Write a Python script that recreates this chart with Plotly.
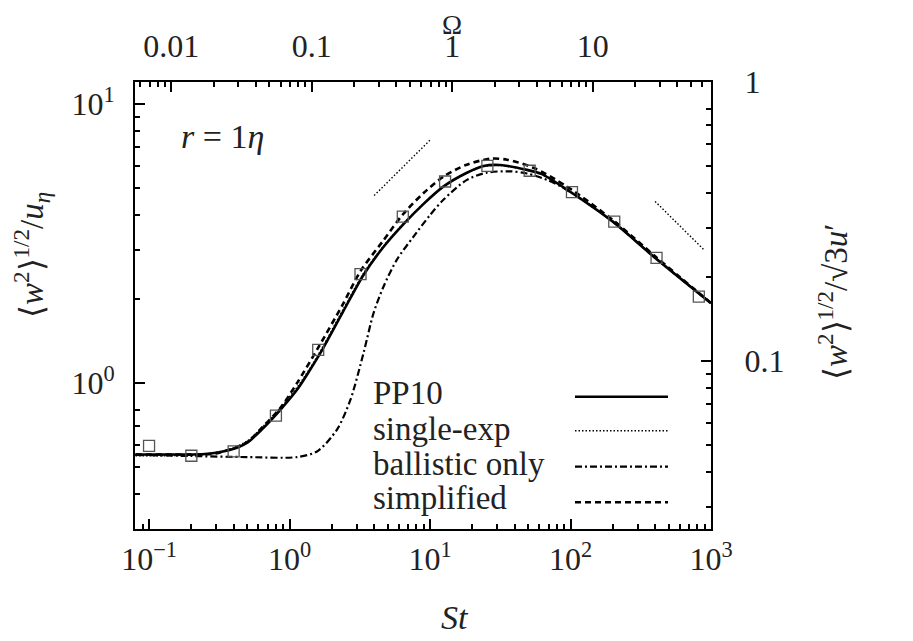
import math
import plotly.graph_objects as go

# ---------------- data ----------------
# DNS data (open squares)
st_dns = [0.1, 0.2, 0.4, 0.8, 1.6, 3.2, 6.4, 12.8, 25.6, 51.2, 102.4, 204.8, 409.6, 819.2]
w_dns = [0.596, 0.549, 0.569, 0.765, 1.316, 2.46, 3.95, 5.28, 6.01, 5.77, 4.84, 3.79, 2.81, 2.04]

# PP10 (solid)
st_pp10 = [0.08, 0.15, 0.25, 0.38, 0.5, 0.65, 0.86, 1.13, 1.4, 1.7, 2.4, 3.36, 4.6, 6.5, 9.0,
           12.5, 18, 24, 31.6, 49, 62, 100, 198, 391, 1000]
w_pp10 = [0.555, 0.555, 0.557, 0.577, 0.612, 0.690, 0.802, 0.946, 1.116, 1.31, 1.80, 2.44, 3.05,
          3.72, 4.39, 5.07, 5.65, 6.0, 6.05, 5.81, 5.62, 4.84, 3.80, 2.84, 1.935]

# single-exp (dotted)
st_se = [0.08, 0.15, 0.25, 0.38, 0.5, 0.65, 0.86, 1.13, 1.4, 1.7, 2.4, 3.36, 4.6, 6.5, 9.0,
         12.5, 18, 24, 31.6, 49, 62, 100, 198, 391, 1000]
w_se = [0.549, 0.550, 0.556, 0.580, 0.620, 0.700, 0.815, 0.965, 1.13, 1.33, 1.83, 2.47, 3.07,
        3.74, 4.40, 5.07, 5.64, 5.98, 6.03, 5.80, 5.62, 4.84, 3.80, 2.84, 1.935]

# ballistic only (dash-dot)
st_ball = [0.08, 0.2, 0.5, 1.13, 1.57, 2.17, 2.71, 3.36, 3.96, 4.67, 5.81, 7.63, 10, 12.5, 18.3,
           25.4, 37.3, 49, 70, 100, 200, 391, 1000]
w_ball = [0.553, 0.548, 0.543, 0.543, 0.569, 0.68, 0.87, 1.28, 1.78, 2.22, 2.77, 3.35, 4.0, 4.55,
          5.35, 5.68, 5.74, 5.64, 5.32, 4.84, 3.80, 2.84, 1.935]

# simplified (dashed)
st_simp = [0.08, 0.15, 0.3, 0.5, 0.65, 0.86, 1.13, 1.6, 2.4, 3.2, 4.6, 6.4, 9.0, 12.5, 18, 26.8,
           35.4, 55, 94, 200, 400, 1000]
w_simp = [0.555, 0.555, 0.56, 0.615, 0.70, 0.814, 1.0, 1.34, 1.92, 2.52, 3.22, 4.02, 4.80, 5.50,
          6.05, 6.37, 6.32, 5.90, 5.07, 3.84, 2.85, 1.935]

# reference slopes St^(1/2) and St^(-1/2)
st_slope_up = [4.0, 10.0]
w_slope_up = [4.70, 7.43]
st_slope_dn = [400.0, 900.0]
w_slope_dn = [4.48, 2.99]

legend_names = ["PP10", "single-exp", "ballistic only", "simplified"]

x_tickvals = [0.1, 1, 10, 100, 1000]
x_ticktext = ["10<sup>\u22121</sup>", "10<sup>0</sup>", "10<sup>1</sup>", "10<sup>2</sup>", "10<sup>3</sup>"]
y_tickvals = [1, 10]
y_ticktext = ["10<sup>0</sup>", "10<sup>1</sup>"]
y2_tickvals = [0.1, 1]
y2_ticktext = ["0.1", "1"]
x2_tickvals = [0.01, 0.1, 1, 10]
x2_ticktext = ["0.01", "0.1", "1", "10"]
omega_factor = 14.4  # St / Omega
y2_factor = 12.0     # left / right axis ratio

# ---------------- figure ----------------
FONT = "Liberation Serif"
FS = 32
FS_LEG = 33
FS_TITLE = 33
TXT = "#222222"

OFF = 8  # page body margin
W, H = 913 - OFF, 641 - OFF
L, R, T, B = 135 - OFF, 711 - OFF, 82 - OFF, 529 - OFF


def px(xp):
    return (xp - OFF - L) / (R - L)


def py(yp):
    return (B - (yp - OFF)) / (B - T)


fig = go.Figure()

line_specs = [
    (st_pp10, w_pp10, dict(color="black", width=2.6, dash="solid")),
    (st_se, w_se, dict(color="black", width=1.6, dash="1.5px,2px")),
    (st_ball, w_ball, dict(color="black", width=2.2, dash="7px,3px,2px,3px")),
    (st_simp, w_simp, dict(color="black", width=2.6, dash="6px,4px")),
]
for (xs, ys, ln), nm in zip(line_specs, legend_names):
    fig.add_trace(go.Scatter(x=xs, y=ys, mode="lines", line=dict(shape="spline", smoothing=0.8, **ln),
                             name=nm, showlegend=False))

fig.add_trace(go.Scatter(x=st_slope_up, y=w_slope_up, mode="lines",
                         line=dict(color="black", width=1.4, dash="1.5px,2px"), showlegend=False))
fig.add_trace(go.Scatter(x=st_slope_dn, y=w_slope_dn, mode="lines",
                         line=dict(color="black", width=1.4, dash="1.5px,2px"), showlegend=False))

fig.add_trace(go.Scatter(x=st_dns, y=w_dns, mode="markers",
                         marker=dict(symbol="square-open", size=11, color="#555555",
                                     line=dict(width=1.3, color="#555555")),
                         showlegend=False))

xmin_log, xmax_log = -1.1, 3.0
ymin, ymax = 0.3, 12.0

axis_common = dict(type="log", showgrid=False, zeroline=False, showline=True, linecolor="black",
                   linewidth=2, ticks="inside", ticklen=10, tickwidth=1.5, tickcolor="black",
                   tickfont=dict(family=FONT, size=FS, color=TXT))


def minors(decades, lo, hi):
    out = []
    for d in decades:
        for m in range(2, 10):
            v = m * 10 ** d
            if lo <= v <= hi:
                out.append(v)
    return out


x_min = minors(range(-2, 3), 10 ** xmin_log, 1000)
y_min = [v for v in minors(range(-1, 2), ymin, ymax) if abs(v - 0.9) > 1e-9]
x2_lo = 10 ** xmin_log / omega_factor
x2_hi = 1000 / omega_factor
x2_min = minors(range(-3, 2), x2_lo, x2_hi)
y2_lo, y2_hi = ymin / y2_factor, ymax / y2_factor
y2_min = [v for v in minors(range(-2, 1), y2_lo, y2_hi) if abs(v - 0.9) > 1e-9]

minor_common = dict(ticks="inside", ticklen=5, tickwidth=1.5, tickcolor="black", showgrid=False)

fig.update_layout(
    width=W, height=H,
    margin=dict(l=L, r=W - R, t=T, b=H - B, autoexpand=False),
    plot_bgcolor="white", paper_bgcolor="white",
    font=dict(family=FONT, size=FS, color=TXT),
    showlegend=False,
    xaxis=dict(axis_common, range=[xmin_log, xmax_log], tickvals=x_tickvals, ticktext=x_ticktext,
               ticklabelstandoff=1, minor=dict(minor_common, tickvals=x_min)),
    yaxis=dict(axis_common, range=[math.log10(ymin), math.log10(ymax)], tickvals=y_tickvals,
               ticktext=y_ticktext, ticklabelstandoff=12, minor=dict(minor_common, tickvals=y_min)),
    xaxis2=dict(axis_common, overlaying="x", side="top", anchor="y",
                range=[math.log10(x2_lo), math.log10(x2_hi)], tickvals=x2_tickvals,
                ticktext=x2_ticktext, ticklabelstandoff=10, minor=dict(minor_common, tickvals=x2_min)),
    yaxis2=dict(axis_common, overlaying="y", side="right", anchor="x",
                range=[math.log10(y2_lo), math.log10(y2_hi)], tickvals=y2_tickvals,
                ticktext=y2_ticktext, ticklabelstandoff=25, minor=dict(minor_common, tickvals=y2_min)),
)

# invisible trace so the secondary axes are drawn
fig.add_trace(go.Scatter(x=[None], y=[None], xaxis="x2", yaxis="y2", showlegend=False, hoverinfo="skip"))

# legend (text on the left, line sample on the right)
legend_y = [396.7, 430.7, 466.7, 502.3]
legend_text_y = [393, 429, 464, 498]
for (xs, ys, ln), nm, yl, yt in zip(line_specs, legend_names, legend_y, legend_text_y):
    fig.add_shape(type="line", xref="paper", yref="paper", x0=px(575), x1=px(668), y0=py(yl), y1=py(yl),
                  line=dict(color=ln["color"], width=ln["width"], dash=ln["dash"]))
    fig.add_annotation(xref="paper", yref="paper", x=px(371), y=py(yt), text=nm, showarrow=False,
                       xanchor="left", yanchor="middle", font=dict(family=FONT, size=FS_LEG, color=TXT))


def label(x, y, text, angle=0, size=FS, yanchor="middle"):
    fig.add_annotation(xref="paper", yref="paper", x=px(x), y=py(y), showarrow=False,
                       xanchor="center", yanchor=yanchor, textangle=angle, text=text,
                       font=dict(family=FONT, size=size, color=TXT))


label(222, 136, "<i>r</i> = 1<i>\u03b7</i>", size=34)
label(455, 617, "<i>St</i>", size=34)
label(452, 8, "\u03a9", size=27, yanchor="top")
label(32, 255, "\u27e8<i>w</i><sup>2</sup>\u27e9<sup>1/2</sup>/<i>u</i><sub><i>\u03b7</i></sub>",
      angle=-90, size=FS_TITLE)
label(833, 302, "\u27e8<i>w</i><sup>2</sup>\u27e9<sup>1/2</sup>/\u221a3<i>u</i>\u2032",
      angle=-90, size=FS_TITLE)

fig.write_html("out.html")
